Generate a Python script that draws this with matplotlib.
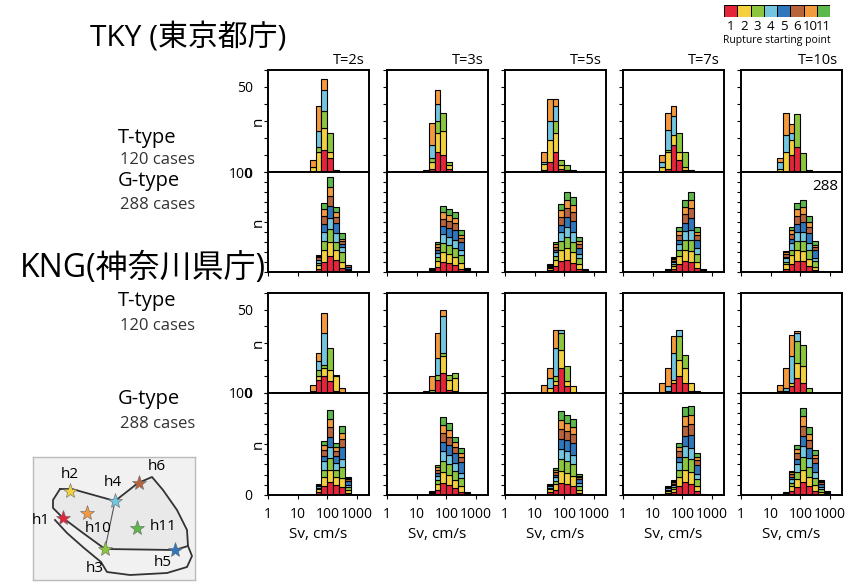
import matplotlib
matplotlib.use("Agg")
import matplotlib.pyplot as plt

plt.rcParams['font.family'] = ['Open Sans', 'Noto Sans CJK JP', 'DejaVu Sans']

# ---------------------------------------------------------------- data
periods = ["T=2s", "T=3s", "T=5s", "T=7s", "T=10s"]
start_points = ["1", "2", "3", "4", "5", "6", "10", "11"]
point_colors = ["#e5243b", "#f3d03e", "#8cc63e", "#72c6e0",
                "#2f77bd", "#b8633c", "#f39a3e", "#5cb84a"]
t_type_points = [0, 1, 2, 3, 6]          # starting points used by T-type
g_type_points = [0, 1, 2, 3, 4, 5, 6, 7]  # starting points used by G-type
bin_step = 0.2                            # log10 bin width of Sv

# counts per Sv bin (key = log10 of bin's lower edge), stacked by starting point
tky_t_type = [
    {1.4: [0, 3, 0, 0, 4], 1.6: [0, 12, 3, 9, 15], 1.8: [13, 13, 10, 12, 7],
     2.0: [8, 4, 11, 0, 0], 2.2: [1, 0, 0, 0, 0]},
    {1.2: [1, 0, 0, 0, 0], 1.4: [2, 4, 2, 8, 13], 1.6: [12, 11, 7, 10, 8],
     1.8: [10, 14, 11, 0, 0], 2.0: [2, 2, 2, 0, 0]},
    {1.2: [1, 4, 0, 1, 6], 1.4: [6, 13, 0, 11, 13], 1.6: [12, 11, 7, 9, 4],
     1.8: [2, 2, 3, 0, 0], 2.0: [1, 0, 3, 0, 0], 2.2: [1, 0, 0, 0, 0]},
    {1.2: [0, 3, 0, 3, 4], 1.4: [2, 10, 1, 12, 10], 1.6: [16, 6, 0, 11, 6],
     1.8: [7, 5, 11, 0, 0], 2.0: [1, 2, 9, 0, 0], 2.2: [0, 0, 1, 0, 0]},
    {1.2: [0, 2, 0, 4, 2], 1.4: [0, 12, 0, 10, 13], 1.6: [10, 9, 0, 4, 5],
     1.8: [15, 0, 19, 0, 0], 2.0: [0, 0, 11, 0, 0], 2.2: [1, 0, 0, 0, 0]},
]
tky_g_type = [
    {1.6: [3, 4, 2, 3, 0, 3, 1, 1], 1.8: [10, 12, 9, 9, 8, 8, 7, 6],
     2.0: [16, 14, 13, 11, 12, 10, 9, 10], 2.2: [12, 10, 8, 9, 10, 6, 5, 5],
     2.4: [4, 6, 10, 5, 3, 3, 2, 6], 2.6: [1, 1, 1, 0, 2, 2, 0, 0]},
    {1.4: [1, 1, 0, 1, 0, 1, 0, 0], 1.6: [5, 6, 4, 4, 3, 3, 3, 2],
     1.8: [10, 10, 9, 9, 8, 7, 7, 6], 2.0: [9, 9, 9, 8, 9, 7, 6, 6],
     2.2: [7, 8, 9, 8, 10, 7, 5, 6], 2.4: [3, 6, 8, 5, 8, 4, 3, 5],
     2.6: [0, 1, 1, 0, 1, 1, 0, 0]},
    {1.4: [2, 2, 1, 1, 0, 1, 1, 0], 1.6: [6, 6, 4, 4, 2, 3, 3, 2],
     1.8: [11, 11, 9, 9, 7, 8, 7, 6], 2.0: [12, 12, 11, 10, 10, 9, 8, 8],
     2.2: [9, 11, 10, 10, 11, 9, 7, 8], 2.4: [3, 5, 6, 4, 6, 4, 3, 4],
     2.6: [0, 0, 1, 0, 1, 1, 0, 0]},
    {1.4: [1, 1, 0, 1, 0, 0, 0, 0], 1.6: [3, 3, 2, 2, 1, 2, 1, 1],
     1.8: [8, 8, 6, 6, 4, 5, 4, 4], 2.0: [11, 11, 10, 9, 8, 9, 7, 7],
     2.2: [10, 11, 11, 10, 12, 10, 8, 8], 2.4: [4, 6, 8, 6, 8, 5, 3, 5],
     2.6: [0, 0, 1, 0, 1, 1, 0, 0]},
    {1.4: [3, 5, 2, 4, 1, 3, 2, 1], 1.6: [8, 9, 5, 7, 4, 5, 4, 3],
     1.8: [11, 11, 9, 9, 8, 8, 7, 6], 2.0: [11, 10, 10, 9, 10, 8, 7, 7],
     2.2: [6, 7, 9, 7, 10, 6, 5, 6], 2.4: [2, 3, 6, 3, 8, 3, 2, 4],
     2.6: [0, 0, 0, 0, 1, 0, 0, 0]},
]
kng_t_type = [
    {1.4: [1, 0, 0, 0, 4], 1.6: [8, 2, 4, 5, 5], 1.8: [10, 5, 2, 19, 12],
     2.0: [7, 7, 13, 0, 0], 2.2: [1, 9, 1, 0, 0], 2.4: [0, 0, 0, 0, 3]},
    {1.2: [1, 0, 0, 0, 0], 1.4: [0, 0, 2, 0, 8], 1.6: [8, 0, 3, 10, 15],
     1.8: [12, 10, 2, 22, 4], 2.0: [2, 6, 3, 0, 0], 2.2: [1, 8, 3, 0, 0]},
    {1.2: [0, 0, 0, 0, 5], 1.4: [0, 3, 0, 6, 6], 1.6: [5, 2, 3, 17, 11],
     1.8: [15, 11, 10, 2, 0], 2.0: [4, 3, 9, 0, 0], 2.2: [0, 4, 0, 0, 0]},
    {1.2: [0, 0, 0, 0, 6], 1.4: [1, 0, 0, 3, 11], 1.6: [6, 2, 0, 16, 10],
     1.8: [10, 10, 14, 4, 0], 2.0: [6, 9, 8, 0, 0], 2.2: [1, 5, 0, 0, 0],
     2.4: [1, 0, 0, 0, 0]},
    {1.2: [0, 0, 0, 1, 4], 1.4: [1, 0, 0, 2, 12], 1.6: [4, 2, 0, 16, 13],
     1.8: [9, 9, 13, 5, 1], 2.0: [6, 10, 13, 0, 0], 2.2: [0, 0, 3, 0, 0]},
]
kng_g_type = [
    {1.6: [3, 3, 1, 2, 0, 1, 1, 0], 1.8: [9, 9, 7, 8, 5, 6, 5, 4],
     2.0: [13, 12, 11, 11, 10, 10, 8, 8], 2.2: [10, 8, 7, 6, 7, 5, 4, 4],
     2.4: [8, 9, 10, 8, 12, 8, 6, 7], 2.6: [2, 3, 3, 2, 4, 2, 1, 1]},
    {1.4: [1, 1, 0, 1, 0, 1, 0, 0], 1.6: [5, 6, 4, 4, 3, 3, 2, 2],
     1.8: [12, 11, 10, 10, 9, 9, 8, 7], 2.0: [10, 10, 10, 9, 10, 8, 7, 7],
     2.2: [7, 8, 9, 7, 10, 6, 5, 5], 2.4: [3, 6, 8, 5, 10, 5, 4, 5],
     2.6: [0, 0, 1, 0, 1, 1, 0, 0]},
    {1.4: [3, 3, 1, 2, 0, 1, 1, 0], 1.6: [5, 6, 3, 4, 2, 3, 2, 1],
     1.8: [12, 12, 11, 10, 10, 10, 9, 8], 2.0: [11, 11, 11, 10, 11, 9, 8, 7],
     2.2: [9, 10, 11, 9, 12, 9, 7, 8], 2.4: [2, 3, 4, 3, 4, 2, 1, 2]},
    {1.2: [0, 0, 0, 0, 0, 1, 0, 0], 1.4: [2, 2, 1, 2, 0, 1, 1, 0],
     1.6: [3, 3, 2, 2, 1, 2, 1, 1], 1.8: [9, 9, 7, 7, 5, 6, 4, 4],
     2.0: [13, 12, 12, 11, 10, 10, 9, 9], 2.2: [11, 12, 12, 11, 13, 11, 8, 9],
     2.4: [4, 5, 7, 5, 8, 5, 3, 4], 2.6: [0, 0, 0, 0, 1, 0, 0, 0]},
    {1.2: [0, 0, 0, 0, 0, 1, 0, 0], 1.4: [1, 0, 0, 1, 0, 1, 0, 0],
     1.6: [4, 5, 3, 4, 2, 3, 2, 1], 1.8: [8, 8, 7, 7, 5, 6, 4, 4],
     2.0: [13, 12, 12, 11, 10, 10, 9, 8], 2.2: [9, 9, 9, 9, 10, 8, 6, 7],
     2.4: [4, 6, 7, 6, 8, 5, 3, 5], 2.6: [1, 2, 3, 2, 3, 2, 1, 1],
     2.8: [0, 1, 1, 0, 1, 1, 0, 0]},
]

# hypocentre map (sketch coordinates inside the inset box)
map_names = ["h1", "h2", "h3", "h4", "h5", "h6", "h10", "h11"]
map_x = [63, 70, 105, 115, 175, 139, 87, 137]
map_y = [518, 491, 549, 501, 550, 483, 513, 528]
map_label_x = [41, 70, 95, 113, 163, 157, 98, 163]
map_label_y = [520, 474, 568, 483, 563, 466, 529, 526]
region_x = [60, 72, 115, 138, 152, 163, 177, 187, 188, 175, 105, 83, 63, 53, 53, 60]
region_y = [489, 489, 501, 483, 477, 490, 510, 530, 546, 550, 549, 533, 518, 508, 500, 489]
outer_x = [55, 67, 84, 101, 107, 130, 167, 187, 192, 188]
outer_y = [520, 533, 548, 562, 572, 575, 573, 567, 556, 546]
divide_x = [115, 105]
divide_y = [501, 549]

# ---------------------------------------------------------------- layout
W, H = 861, 584
fig = plt.figure(figsize=(W / 100, H / 100), dpi=100)


def fbox(x0, y0, x1, y1):
    return [x0 / W, 1 - y1 / H, (x1 - x0) / W, (y1 - y0) / H]


col_left = [268, 387, 505, 623, 741]
panel_w = 101
row_spans = [(70, 172), (172, 272), (293, 393), (393, 495)]
row_data = [(tky_t_type, t_type_points, 60), (tky_g_type, g_type_points, 100),
            (kng_t_type, t_type_points, 60), (kng_g_type, g_type_points, 100)]

tick_font = 10
for r, ((y0, y1), (data, pts, ymax)) in enumerate(zip(row_spans, row_data)):
    for c in range(5):
        x0 = col_left[c]
        ax = fig.add_axes(fbox(x0, y0, x0 + panel_w, y1))
        for lo, segs in data[c].items():
            left = 10 ** lo
            width = 10 ** (lo + bin_step) - left
            base = 0
            for k, n in zip(pts, segs):
                if n == 0:
                    continue
                ax.bar(left, n, width=width, bottom=base, align='edge',
                       color=point_colors[k], edgecolor='black', linewidth=0.8)
                base += n
        ax.set_xscale('log')
        ax.set_xlim(1, 10 ** 3.4)
        ax.set_ylim(0, ymax)
        ax.set_xticks([1, 10, 100, 1000])
        ax.minorticks_off()
        ax.set_yticks(range(0, ymax + 1, 10))
        for s in ax.spines.values():
            s.set_linewidth(1.4)
        ax.tick_params(axis='y', direction='out', length=3, width=0.8, pad=8,
                       labelsize=tick_font)
        ax.tick_params(axis='x', direction='out', length=3, width=0.8, pad=6,
                       labelsize=tick_font)
        if r == 3:
            ax.set_xticklabels(["1", "10", "100", "1000"])
            ax.set_xlabel("Sv, cm/s", fontsize=11, labelpad=3)
        else:
            ax.set_xticklabels([])
        labels = [""] * len(ax.get_yticks())
        if c == 0:
            if ymax == 60:
                labels[0], labels[5] = "0", "50"
            else:
                labels[10] = "100"
                if r == 3:
                    labels[0] = "0"
            ax.text(-0.1, 0.5, "n", transform=ax.transAxes, rotation=90,
                    ha='center', va='center', fontsize=11)
        ax.set_yticklabels(labels)
        if r == 0:
            ax.text(0.96, 1.02, periods[c], transform=ax.transAxes,
                    ha='right', va='bottom', fontsize=10.5)
        if r == 1 and c == 4:
            ax.text(0.96, 0.93, "288", transform=ax.transAxes, ha='right',
                    va='top', fontsize=11)

# ---------------------------------------------------------------- left labels
fig.text(90 / W, 1 - 38 / H, "TKY (東京都庁)", fontsize=21.5, va='center',
         ha='left')
fig.text(20 / W, 1 - 268 / H, "KNG(神奈川県庁)", fontsize=23, va='center',
         ha='left')
for ytype, ycase, case_txt, type_txt in [(138, 160, "120 cases", "T-type"),
                                          (181, 205, "288 cases", "G-type"),
                                          (301, 326, "120 cases", "T-type"),
                                          (399, 424, "288 cases", "G-type")]:
    fig.text(118 / W, 1 - ytype / H, type_txt, fontsize=14.5, va='center')
    fig.text(120 / W, 1 - ycase / H, case_txt, fontsize=12, va='center',
             color='#333333')

# ---------------------------------------------------------------- legend
leg = fig.add_axes(fbox(724, 5, 830, 17))
for i, col in enumerate(point_colors):
    leg.bar(i, 1, width=1, align='edge', color=col, edgecolor='black',
            linewidth=0.7)
leg.set_xlim(0, len(point_colors))
leg.set_ylim(0, 1)
leg.axis('off')
for i, name in enumerate(start_points):
    fig.text((724 + (i + 0.5) * 106 / 8) / W, 1 - 26 / H, name, ha='center',
             va='center', fontsize=9.5)
fig.text(777 / W, 1 - 40 / H, "Rupture starting point", ha='center',
         va='center', fontsize=7.5)

# ---------------------------------------------------------------- map inset
mp = fig.add_axes(fbox(33, 457, 195, 580))
mp.set_xlim(33, 195)
mp.set_ylim(580, 457)
mp.set_facecolor('#f1f1f1')
for s in mp.spines.values():
    s.set_color('#bbbbbb')
    s.set_linewidth(1)
mp.set_xticks([])
mp.set_yticks([])
mp.fill(region_x, region_y, color='#e9e9e9', zorder=1)
mp.plot(region_x, region_y, color='#333333', lw=1.3, zorder=2)
mp.plot(outer_x, outer_y, color='#333333', lw=1.3, zorder=2)
mp.plot(divide_x, divide_y, color='#555555', lw=0.8, zorder=2)
for x, y, col in zip(map_x, map_y, point_colors):
    mp.plot(x, y, marker='*', ms=11, color=col, mec='#666666', mew=0.4,
            zorder=3)
for name, lx, ly in zip(map_names, map_label_x, map_label_y):
    mp.text(lx, ly, name, ha='center', va='center', fontsize=11, zorder=4)

fig.savefig("out.png", dpi=100)
